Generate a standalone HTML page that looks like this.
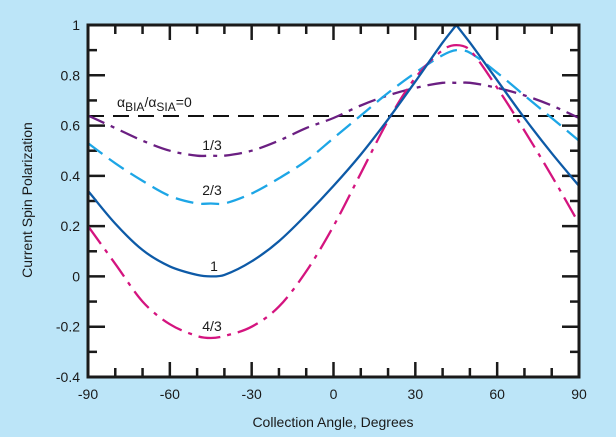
<!DOCTYPE html>
<html><head><meta charset="utf-8"><style>
body{margin:0;background:#bce5f8;}
svg{display:block;font-family:"Liberation Sans",sans-serif;}
</style></head><body>
<svg id="chart" width="616" height="437" viewBox="0 0 616 437">
<rect x="0" y="0" width="616" height="437" fill="#bce5f8"/>
<rect x="88" y="25" width="491" height="352" fill="#fff"/>
<g id="ticks"></g>
<g id="series"></g>
<rect x="88" y="25" width="491" height="352" fill="none" stroke="#1a1a1a" stroke-width="3"/>
<g id="labels" font-size="14" fill="#1a1a1a"></g>
<text x="117" y="107" font-size="14" fill="#1a1a1a">α<tspan font-size="12" dy="4">BIA</tspan><tspan dy="-4">/α</tspan><tspan font-size="12" dy="4">SIA</tspan><tspan dy="-4">=0</tspan></text>
<text x="333" y="427" font-size="14" text-anchor="middle" fill="#1a1a1a">Collection Angle, Degrees</text>
<text transform="translate(32,200) rotate(-90)" font-size="14" text-anchor="middle" fill="#1a1a1a">Current Spin Polarization</text>
</svg>
<script>
const angles=[-90,-80,-70,-60,-50,-45,-40,-30,-20,-10,0,10,20,30,40,45,50,60,70,80,90];
const ratio1=[0.34,0.21,0.105,0.04,0.006,0,0.006,0.06,0.14,0.245,0.36,0.485,0.625,0.775,0.93,1.0,0.93,0.78,0.63,0.49,0.36];
const ratio2_3=[0.53,0.45,0.38,0.32,0.29,0.29,0.29,0.33,0.39,0.46,0.55,0.64,0.73,0.81,0.88,0.9,0.89,0.81,0.72,0.63,0.54];
const ratio1_3=[0.64,0.59,0.54,0.50,0.48,0.48,0.48,0.50,0.54,0.59,0.63,0.68,0.72,0.75,0.77,0.77,0.77,0.75,0.72,0.68,0.63];
const ratio4_3=[0.2,0.05,-0.1,-0.19,-0.237,-0.245,-0.237,-0.2,-0.12,0.02,0.2,0.41,0.62,0.79,0.9,0.92,0.9,0.75,0.58,0.4,0.21];
const refLine=[0.638];
const xTicks=[-90,-60,-30,0,30,60,90];
const yTicks=[-0.4,-0.2,0,0.2,0.4,0.6,0.8,1];
const NS='http://www.w3.org/2000/svg';
const X0=88,X1=579,Y0=377,Y1=25;
const xs=v=>X0+(v+90)/180*(X1-X0);
const ys=v=>Y0-(v+0.4)/1.4*(Y0-Y1);
function mk(t,a,p){const e=document.createElementNS(NS,t);for(const k in a)e.setAttribute(k,a[k]);p.appendChild(e);return e;}
const tg=document.getElementById('ticks');
for(let d=-90;d<=90;d+=10){const major=d%30===0;const L=major?15:9;
 const b=mk('line',{x1:xs(d),x2:xs(d),y1:Y0,y2:Y0-L,stroke:'#1a1a1a','stroke-width':2.5},tg);
 
 const t=mk('line',{x1:xs(d),x2:xs(d),y1:Y1,y2:Y1+L,stroke:'#1a1a1a','stroke-width':2.5},tg);
 }
for(let i=-4;i<=10;i++){const v=i/10;const major=i%2===0;const L=major?17:9;
 const l=mk('line',{x1:X0,x2:X0+L,y1:ys(v),y2:ys(v),stroke:'#1a1a1a','stroke-width':2.5},tg);
 
 const r=mk('line',{x1:X1,x2:X1-L,y1:ys(v),y2:ys(v),stroke:'#1a1a1a','stroke-width':2.5},tg);
 }
const lg=document.getElementById('labels');
xTicks.forEach(v=>{const t=mk('text',{x:xs(v),y:399,'text-anchor':'middle'},lg);t.textContent=v;
 });
yTicks.forEach(v=>{const t=mk('text',{x:80,y:ys(v)+5,'text-anchor':'end'},lg);t.textContent=(Math.round(v*10)/10).toString();
 });
const sg=document.getElementById('series');
const ref=mk('line',{x1:X0,x2:X1,y1:ys(refLine[0]),y2:ys(refLine[0]),stroke:'#111','stroke-width':2,'stroke-dasharray':'16 9'},sg);

function smooth(pts){
 const n=pts.length;const m=[];
 for(let i=0;i<n;i++){const a=pts[Math.max(0,i-1)],b=pts[Math.min(n-1,i+1)];m.push((b[1]-a[1])/(b[0]-a[0]));}
 let d='M'+pts[0][0].toFixed(1)+','+pts[0][1].toFixed(1);
 for(let i=0;i<n-1;i++){
  const p1=pts[i],p2=pts[i+1],dx=(p2[0]-p1[0])/3;
  d+='C'+(p1[0]+dx).toFixed(1)+','+(p1[1]+m[i]*dx).toFixed(1)+' '+(p2[0]-dx).toFixed(1)+','+(p2[1]-m[i+1]*dx).toFixed(1)+' '+p2[0].toFixed(1)+','+p2[1].toFixed(1);
 }
 return d;}
function line(vals,color,dash,name,splitAt){
 const pts=angles.map((a,i)=>[xs(a),ys(vals[i])]);
 let d;
 if(splitAt!==undefined){const k=angles.indexOf(splitAt);
  d=smooth(pts.slice(0,k+1))+smooth(pts.slice(k)).replace('M','L');}
 else d=smooth(pts);
 const p=mk('path',{d:d,fill:'none',stroke:color,'stroke-width':2.3,'stroke-dasharray':dash,'stroke-linejoin':'round'},sg);
 }
line(ratio1_3,'#6b1f82','18 7 4 7','series-ratio-1-3');
line(ratio2_3,'#1da6e6','18 8','series-ratio-2-3');
line(ratio4_3,'#d4147f','22 7 4 7','series-ratio-4-3');
line(ratio1,'#0d5aa7','','series-ratio-1',45);
[['1/3',212,150,'label-1-3'],['2/3',212,195,'label-2-3'],['1',214,271,'label-1'],['4/3',212,331,'label-4-3']].forEach(([s,x,y,n])=>{
 const t=mk('text',{x:x,y:y,'text-anchor':'middle'},lg);t.textContent=s;
 });
</script>
</body></html>
